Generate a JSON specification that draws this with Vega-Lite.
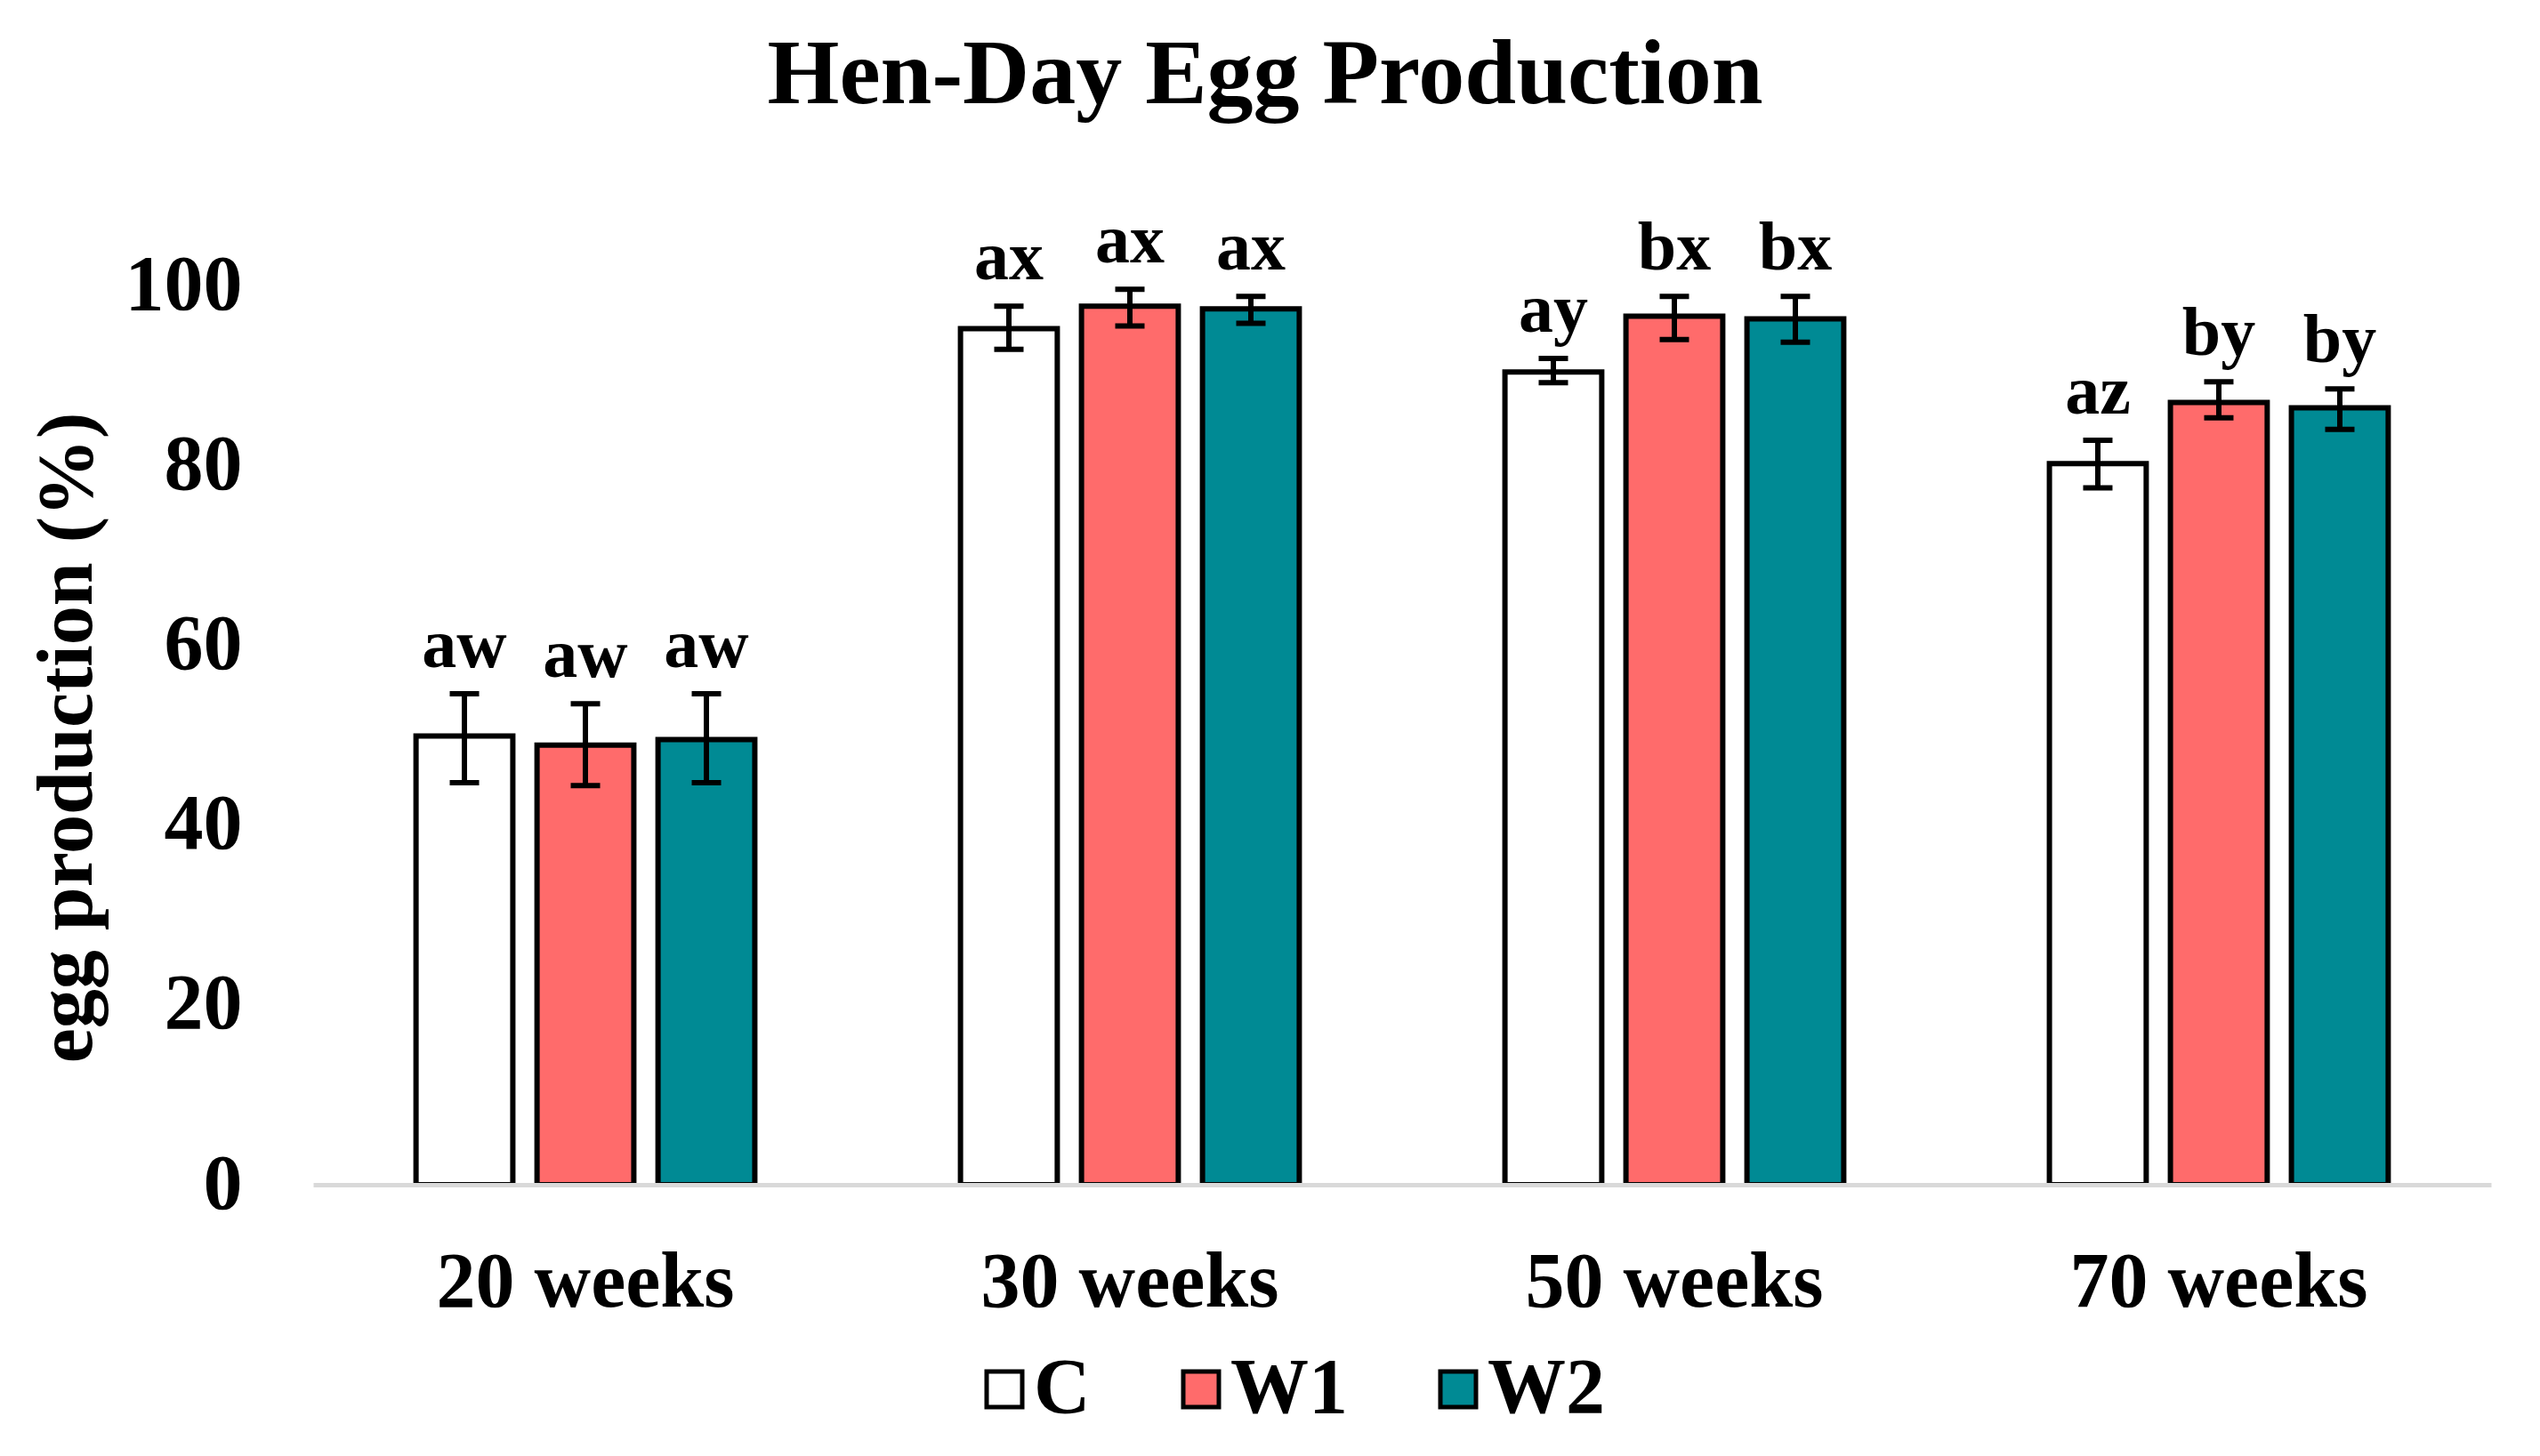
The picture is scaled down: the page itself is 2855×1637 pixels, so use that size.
{
  "$schema": "https://vega.github.io/schema/vega-lite/v6.json",
  "width": 2448,
  "height": 1112,
  "autosize": {"type": "none"},
  "padding": {"left": 352, "top": 220, "right": 55, "bottom": 305},
  "background": "white",
  "config": {"view": {"stroke": null}, "font": "Liberation Serif"},
  "title": {
    "text": "Hen-Day Egg Production",
    "font": "Liberation Serif",
    "fontSize": 104,
    "fontWeight": "bold",
    "color": "black",
    "anchor": "middle",
    "frame": "group",
    "baseline": "alphabetic",
    "offset": 0,
    "dx": -154
  },
  "data": {
    "values": [
      {"age": "20 weeks", "group": "C", "mean": 49.9, "lo": 44.7, "hi": 54.6, "letter": "aw"},
      {"age": "20 weeks", "group": "W1", "mean": 48.9, "lo": 44.4, "hi": 53.5, "letter": "aw"},
      {"age": "20 weeks", "group": "W2", "mean": 49.5, "lo": 44.7, "hi": 54.6, "letter": "aw"},
      {"age": "30 weeks", "group": "C", "mean": 95.2, "lo": 92.9, "hi": 97.7, "letter": "ax"},
      {"age": "30 weeks", "group": "W1", "mean": 97.7, "lo": 95.5, "hi": 99.6, "letter": "ax"},
      {"age": "30 weeks", "group": "W2", "mean": 97.4, "lo": 95.8, "hi": 98.8, "letter": "ax"},
      {"age": "50 weeks", "group": "C", "mean": 90.4, "lo": 89.2, "hi": 91.9, "letter": "ay"},
      {"age": "50 weeks", "group": "W1", "mean": 96.6, "lo": 94.0, "hi": 98.8, "letter": "bx"},
      {"age": "50 weeks", "group": "W2", "mean": 96.3, "lo": 93.7, "hi": 98.8, "letter": "bx"},
      {"age": "70 weeks", "group": "C", "mean": 80.2, "lo": 77.5, "hi": 82.8, "letter": "az"},
      {"age": "70 weeks", "group": "W1", "mean": 87.0, "lo": 85.3, "hi": 89.3, "letter": "by"},
      {"age": "70 weeks", "group": "W2", "mean": 86.4, "lo": 84.0, "hi": 88.5, "letter": "by"}
    ]
  },
  "encoding": {
    "x": {
      "field": "age",
      "type": "nominal",
      "sort": ["20 weeks", "30 weeks", "50 weeks", "70 weeks"],
      "scale": {"paddingInner": 0.3333, "paddingOuter": 0.1667},
      "axis": {
        "title": null,
        "labelAngle": 0,
        "labelFont": "Liberation Serif",
        "labelFontSize": 88,
        "labelFontWeight": "bold",
        "labelColor": "black",
        "labelLimit": 1000,
        "ticks": false,
        "tickSize": 0,
        "labelPadding": 136,
        "labelBaseline": "alphabetic",
        "domainColor": "#d9d9d9",
        "domainWidth": 5,
        "grid": false,
        "zindex": 1
      }
    },
    "xOffset": {
      "field": "group",
      "type": "nominal",
      "sort": ["C", "W1", "W2"],
      "scale": {"paddingInner": 0.2, "paddingOuter": 0.1}
    }
  },
  "layer": [
    {
      "mark": {"type": "bar", "stroke": "black", "strokeWidth": 6},
      "encoding": {
        "y": {
          "field": "mean",
          "type": "quantitative",
          "title": "egg production (%)",
          "scale": {"domain": [0, 110]},
          "axis": {
            "values": [0, 20, 40, 60, 80, 100],
            "domain": false,
            "ticks": false,
            "tickSize": 0,
            "grid": false,
            "labelFont": "Liberation Serif",
            "labelFontSize": 88,
            "labelFontWeight": "bold",
            "labelColor": "black",
            "labelPadding": 80,
            "titleFont": "Liberation Serif",
            "titleFontSize": 88,
            "titleFontWeight": "bold",
            "titleColor": "black",
            "titleAngle": -90,
            "titleX": -250,
            "titleY": 609,
            "titleAlign": "center",
            "titleBaseline": "alphabetic"
          }
        },
        "color": {
          "field": "group",
          "type": "nominal",
          "scale": {"domain": ["C", "W1", "W2"], "range": ["#ffffff", "#ff6b6b", "#008a94"]},
          "legend": {
            "orient": "none",
            "legendX": 733,
            "legendY": 1298,
            "direction": "horizontal",
            "title": null,
            "labelFont": "Liberation Serif",
            "labelFontSize": 88,
            "labelFontWeight": "bold",
            "labelColor": "black",
            "labelLimit": 400,
            "symbolType": "square",
            "symbolSize": 1600,
            "symbolStrokeWidth": 5,
            "symbolStrokeColor": "black",
            "columnPadding": 80,
            "labelOffset": -11,
            "padding": 0,
            "encode": {"symbols": {"update": {"stroke": {"value": "black"}, "strokeWidth": {"value": 5}}}}
          }
        }
      }
    },
    {
      "mark": {"type": "rule", "strokeWidth": 6, "color": "black"},
      "encoding": {
        "y": {"field": "lo", "type": "quantitative", "title": "egg production (%)"},
        "y2": {"field": "hi"}
      }
    },
    {
      "mark": {"type": "tick", "orient": "horizontal", "size": 33, "thickness": 6, "color": "black", "opacity": 1},
      "encoding": {
        "y": {"field": "lo", "type": "quantitative", "title": "egg production (%)"}
      }
    },
    {
      "mark": {"type": "tick", "orient": "horizontal", "size": 33, "thickness": 6, "color": "black", "opacity": 1},
      "encoding": {
        "y": {"field": "hi", "type": "quantitative", "title": "egg production (%)"}
      }
    },
    {
      "mark": {"type": "text", "font": "Liberation Serif", "fontWeight": "bold", "fontSize": 78, "baseline": "alphabetic", "dy": -30, "color": "black"},
      "encoding": {
        "y": {"field": "hi", "type": "quantitative", "title": "egg production (%)"},
        "text": {"field": "letter"}
      }
    }
  ]
}
